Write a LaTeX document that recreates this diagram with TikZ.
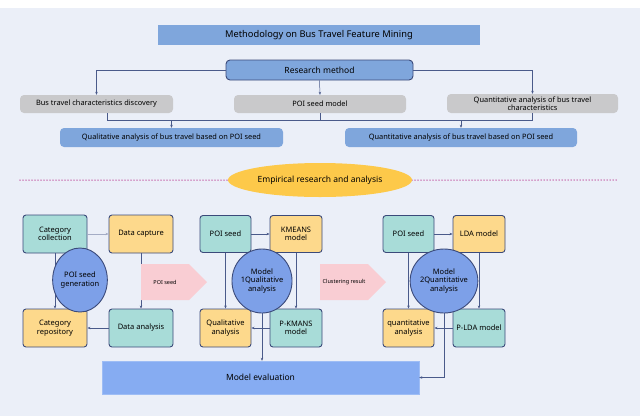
\documentclass[tikz,border=0pt]{standalone}
\usepackage{fontspec}
\setmainfont{Noto Sans}
\usetikzlibrary{arrows.meta,shapes.geometric,shapes.arrows}
\definecolor{bg}{HTML}{EBEFF8}
\definecolor{tb}{HTML}{7FA6DC}
\definecolor{gr}{HTML}{C9C9CB}
\definecolor{teal}{HTML}{A8DCD8}
\definecolor{org}{HTML}{FDD98C}
\definecolor{bd}{HTML}{3B4A7A}
\definecolor{circ}{HTML}{7DA0E8}
\definecolor{ev}{HTML}{86ACF2}
\definecolor{pk}{HTML}{F9CDD3}
\definecolor{mag}{HTML}{C0509E}
\definecolor{ell}{HTML}{FDC94A}
\definecolor{ln}{HTML}{4A5A8A}
\begin{document}
\begin{tikzpicture}[x=1pt,y=-1pt,
 box/.style={draw=bd,line width=0.9pt,rounded corners=3pt,align=center,font=\fontsize{7.5}{8.5}\selectfont,inner sep=1pt},
 tl/.style={box,fill=teal},
 ol/.style={box,fill=org},
 cc/.style={ellipse,draw=bd,line width=0.9pt,fill=circ,align=center,font=\fontsize{7.5}{8.5}\selectfont,inner sep=0pt},
 gb/.style={fill=gr,rounded corners=4pt,align=center,font=\fontsize{7.4}{8}\selectfont,inner sep=1pt},
 bb/.style={fill=tb,rounded corners=4pt,align=center,font=\fontsize{7.4}{8}\selectfont,inner sep=1pt},
 ar/.style={draw=ln,line width=0.5pt,-{Stealth[length=3pt,width=2.5pt]}},
 pa/.style={single arrow,fill=pk,minimum height=66pt,minimum width=36pt,single arrow head extend=0pt,single arrow tip angle=90,inner sep=0pt,font=\fontsize{5.5}{6}\selectfont}]
\useasboundingbox (0,0) rectangle (640,416);
\fill[bg] (0,8) rectangle (640,416);
\node[fill=tb,minimum width=322pt,minimum height=20pt,font=\fontsize{9.3}{10}\selectfont,inner sep=0pt] (title) at (319,35) {Methodology on Bus Travel Feature Mining};
\node[fill=tb,draw=bd,line width=0.9pt,rounded corners=4pt,minimum width=187pt,minimum height=20pt,font=\fontsize{8.5}{10}\selectfont,inner sep=0pt] (rm) at (319.5,70) {Research method};
\node[gb,minimum width=153pt,minimum height=18pt] (g1) at (96.5,104) {Bus travel characteristics discovery};
\node[gb,minimum width=172pt,minimum height=18pt] (g2) at (320,104) {POI seed model};
\node[gb,minimum width=171pt,minimum height=19pt] (g3) at (532.5,103.5) {Quantitative analysis of bus travel\\characteristics};
\node[bb,minimum width=223pt,minimum height=19pt] (b1) at (171.5,137.5) {Qualitative analysis of bus travel based on POI seed};
\node[bb,minimum width=232pt,minimum height=19pt] (b2) at (461,137.5) {Quantitative analysis of bus travel based on POI seed};
\draw[ar] (rm.west) -| (g1.north);
\draw[ar] (rm.east) -| (g3.north);
\draw[ar] (rm.south) -- (g2.north);
\coordinate (jl) at (107,120); \coordinate (jr) at (532,120);
\draw[draw=ln,line width=0.5pt] (g1.south -| jl) -- (jl) -- (jr) -- (g3.south -| jr);
\draw[draw=ln,line width=0.5pt] (g2.south) -- (g2.south |- jl);
\draw[ar] (b1.north |- jl) -- (b1.north);
\draw[ar] (b2.north |- jl) -- (b2.north);
\draw[mag,line width=1.5pt,dash pattern=on 0pt off 3pt,line cap=round] (20,180) -- (228,180) (412,180) -- (618,180);
\node[ellipse,fill=ell,minimum width=184pt,minimum height=34pt,font=\fontsize{8.5}{10}\selectfont,inner sep=0pt] (emp) at (320,180) {Empirical research and analysis};
% left group
\node[tl,minimum width=64pt,minimum height=38pt] (cc1) at (55,234) {Category\\collection};
\node[ol,minimum width=64pt,minimum height=38pt] (dc) at (141,234) {Data capture};
\node[ol,minimum width=64pt,minimum height=38pt] (cr) at (55,328) {Category\\repository};
\node[tl,minimum width=64pt,minimum height=38pt] (da) at (141,328) {Data analysis};
\draw[ar,draw=ln!50] (cc1.east) -- (dc.west);
\draw[ar] (cc1.south) -- (cr.north);
\draw[ar] (dc.south) -- (da.north);
\draw[ar] (da.west) -- (cr.east);
\node[cc,minimum width=53pt,minimum height=64pt] (c1) at (80,280) {POI seed\\generation};
% middle group
\node[tl,minimum width=51pt,minimum height=37pt] (ps1) at (225.5,234) {POI seed};
\node[ol,minimum width=52pt,minimum height=37pt] (km) at (296,234) {KMEANS\\model};
\node[ol,minimum width=51pt,minimum height=38pt] (qa) at (225.5,328) {Qualitative\\analysis};
\node[tl,minimum width=52pt,minimum height=38pt] (pk) at (296,328) {P-KMANS\\model};
\draw[ar] (ps1.east) -- (km.west);
\draw[ar] (ps1.south) -- (qa.north);
\draw[ar] (km.south) -- (pk.north);
\draw[ar] (pk.west) -- (qa.east);
\node[cc,minimum width=54pt,minimum height=64pt] (c2) at (262,281) {Model\\1Qualitative\\analysis};
% right group
\node[tl,minimum width=51pt,minimum height=37pt] (ps2) at (408.5,234) {POI seed};
\node[ol,minimum width=52pt,minimum height=37pt] (lda) at (479,234) {LDA model};
\node[ol,minimum width=51pt,minimum height=38pt] (qn) at (408.5,328) {quantitative\\analysis};
\node[tl,minimum width=52pt,minimum height=38pt] (plda) at (479,328) {P-LDA model};
\draw[ar] (ps2.east) -- (lda.west);
\draw[ar] (ps2.south) -- (qn.north);
\draw[ar] (lda.south) -- (plda.north);
\draw[ar] (plda.west) -- (qn.east);
\node[cc,minimum width=54pt,minimum height=64pt] (c3) at (444,281) {Model\\2Quantitative\\analysis};
% evaluation
\node[fill=ev,draw=ev!80!white,minimum width=317pt,minimum height=33pt,font=\fontsize{8.5}{10}\selectfont,inner sep=0pt] (me) at (260.5,377.5) {Model evaluation};
\draw[ar] (c2.south) -- (c2.south |- me.north);
\draw[ar] (c3.south) |- (me.east);
\node[pa] (a1) at (165,282) {POI seed};
\node[pa] (a2) at (344,282) {Clustering result};
\end{tikzpicture}
\end{document}
